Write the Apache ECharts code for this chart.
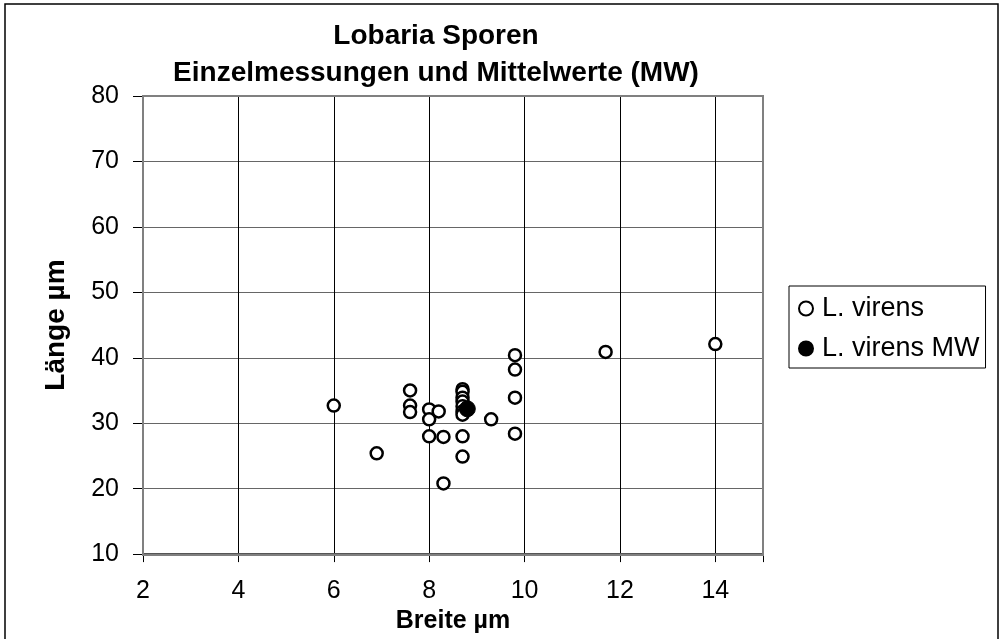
<!DOCTYPE html>
<html>
<head>
<meta charset="utf-8">
<script src="https://cdn.jsdelivr.net/npm/echarts@6/dist/echarts.min.js"></script>
<style>
  html, body { margin: 0; padding: 0; background: #fff; }
  #chart { width: 1002px; height: 639px; }
</style>
</head>
<body>
<div id="chart"></div>
<script>
// Einzelmessungen: Breite (µm), Länge (µm)
var breite = [6.0, 6.9, 7.6, 7.6, 7.6, 8.0, 8.0, 8.0, 8.2, 8.3, 8.3,
  8.7, 8.7, 8.7, 8.7, 8.7, 8.7, 8.7, 8.7, 8.7, 9.3, 9.8, 9.8, 9.8, 9.8, 11.7, 14.0];
var laenge = [32.7, 25.4, 35.0, 32.7, 31.7, 32.1, 30.6, 28.0, 31.8, 27.9, 20.8,
  35.2, 34.8, 33.9, 33.3, 32.6, 31.8, 31.3, 28.0, 24.9, 30.6, 40.4, 38.2, 33.9, 28.4, 40.9, 42.1];
// Mittelwert
var mwBreite = [8.8];
var mwLaenge = [32.2];

var xTicks = [2, 4, 6, 8, 10, 12, 14];

var einzel = breite.map(function (b, i) { return [b, laenge[i]]; });
var mittel = mwBreite.map(function (b, i) { return [b, mwLaenge[i]]; });

var chart = echarts.init(document.getElementById("chart"));
var font = "Liberation Sans, Arial, sans-serif";

var option = {
  animation: false,
  backgroundColor: "#fff",
  textStyle: { fontFamily: font, color: "#000" },
  title: {
    text: "Lobaria Sporen\nEinzelmessungen und Mittelwerte (MW)",
    left: 431,
    top: 13,
    textAlign: "center",
    textStyle: { fontFamily: font, fontSize: 28, fontWeight: "bold", lineHeight: 37, color: "#000" }
  },
  graphic: [
    {
      type: "rect",
      shape: { x: 5, y: 4, width: 993, height: 660 },
      style: { fill: null, stroke: "#000", lineWidth: 1.5 },
      silent: true
    },
    {
      type: "rect",
      shape: { x: 143, y: 96, width: 620, height: 459 },
      style: { fill: null, stroke: "#808080", lineWidth: 2 },
      silent: true, z: 1
    }
  ],
  legend: {
    left: 789,
    top: 286,
    orient: "vertical",
    padding: [9, 6, 6, 9],
    itemGap: 13,
    itemWidth: 14,
    itemHeight: 14,
    borderColor: "#000",
    borderWidth: 1,
    borderRadius: 0,
    textStyle: { fontFamily: font, fontSize: 27, color: "#000", padding: [0, 0, 0, 4] },
    data: [
      { name: "L. virens", icon: "circle" },
      { name: "L. virens MW", icon: "circle" }
    ]
  },
  grid: { left: 143, right: 239, top: 96, bottom: 84 },
  xAxis: {
    type: "value",
    min: 2,
    max: 15,
    interval: 2,
    name: "Breite µm",
    nameLocation: "middle",
    nameGap: 47,
    nameTextStyle: { fontFamily: font, fontSize: 25, fontWeight: "bold", color: "#000" },
    axisLine: { show: true, lineStyle: { color: "#555", width: 2 } },
    axisTick: { show: true, length: 8, lineStyle: { color: "#000" } },
    axisLabel: {
      fontFamily: font, fontSize: 25, color: "#000", margin: 25,
      formatter: function (v) { return xTicks.indexOf(v) >= 0 ? v : ""; }
    },
    splitLine: { show: true, lineStyle: { color: "#000", width: 1 } }
  },
  yAxis: {
    type: "value",
    min: 10,
    max: 80,
    interval: 10,
    name: "Länge µm",
    nameLocation: "middle",
    nameGap: 73,
    nameRotate: 90,
    nameTextStyle: { fontFamily: font, fontSize: 28, fontWeight: "bold", color: "#000" },
    axisLine: { show: true, lineStyle: { color: "#555", width: 2 } },
    axisTick: { show: true, length: 10, lineStyle: { color: "#000" } },
    axisLabel: { fontFamily: font, fontSize: 25, color: "#000", margin: 24 },
    splitLine: { show: true, lineStyle: { color: "#666", width: 1 } }
  },
  series: [
    {
      name: "L. virens",
      type: "scatter",
      symbol: "circle",
      symbolSize: 12,
      itemStyle: { color: "#fff", borderColor: "#000", borderWidth: 2.5, opacity: 1 },
      data: einzel,
      z: 3
    },
    {
      name: "L. virens MW",
      type: "scatter",
      symbol: "circle",
      symbolSize: 16,
      itemStyle: { color: "#000", borderColor: "#000", borderWidth: 1, opacity: 1 },
      data: mittel,
      z: 4
    }
  ]
};
chart.setOption(option);
</script>
</body>
</html>
